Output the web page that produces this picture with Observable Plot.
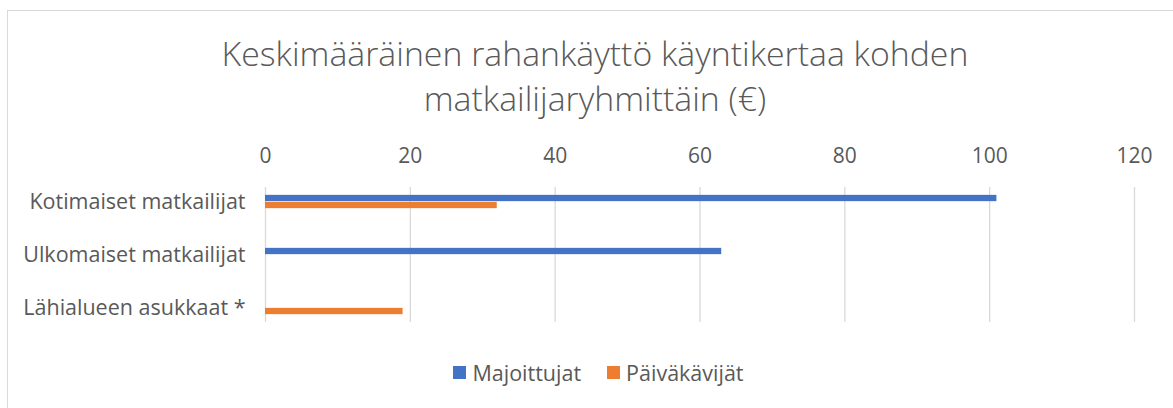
<!DOCTYPE html>
<html>
<head>
<meta charset="utf-8">
<script src="https://cdn.jsdelivr.net/npm/d3@7"></script>
<script src="https://cdn.jsdelivr.net/npm/@observablehq/plot@0.6"></script>
<style>
  html, body { margin: 0; padding: 0; background: #fff; overflow: hidden; }
  #wrap { position: relative; width: 1173px; height: 408px; overflow: hidden; font-family: "Open Sans", sans-serif; color: #595959; }
  #frame { position: absolute; left: 7px; top: 10px; width: 1200px; height: 440px; border: 1px solid #d9d9d9; box-sizing: border-box; }
  #title { position: absolute; left: 0; width: 1190px; top: 31px; text-align: center; font-size: 33.8px; font-weight: 300; line-height: 45px; color: #595959; }
  #chart { position: absolute; left: 0; top: 130px; }
  #legend { position: absolute; top: 358px; left: 12px; width: 1173px; display: flex; justify-content: center; font-size: 21.5px; color: #595959; }
  .item { display: flex; align-items: center; margin: 0 13px; }
  .sw { width: 13px; height: 13px; margin-right: 6px; }
</style>
</head>
<body>
<div id="wrap">
  <div id="frame"></div>
  <div id="title">Keskimääräinen rahankäyttö käyntikertaa kohden<br>matkailijaryhmittäin (€)</div>
  <div id="chart"></div>
  <div id="legend"></div>
</div>
<script>
const categories = ["Kotimaiset matkailijat", "Ulkomaiset matkailijat", "Lähialueen asukkaat *"];
const seriesNames = ["Majoittujat", "Päiväkävijät"];
const majoittujat = [101, 63, null];
const paivakavijat = [32, null, 19];
const xTicks = [0, 20, 40, 60, 80, 100, 120];
const colors = ["#4472C4", "#ED7D31"];

const rowsA = categories.map((c, i) => ({category: c, value: majoittujat[i]})).filter(d => d.value != null);
const rowsB = categories.map((c, i) => ({category: c, value: paivakavijat[i]})).filter(d => d.value != null);

const chart = Plot.plot({
  width: 1173,
  height: 220,
  marginLeft: 265,
  marginRight: 39,
  marginTop: 44,
  marginBottom: 15,
  style: {fontFamily: "Open Sans, sans-serif", color: "#595959", background: "transparent"},
  x: {domain: [0, 120], axis: null},
  y: {domain: categories, padding: 0, axis: null},
  marks: [
    Plot.ruleX(xTicks, {x: d => d, stroke: "#d9d9d9", strokeWidth: 1.3, insetTop: 13, insetBottom: 13}),
    Plot.axisX(xTicks, {anchor: "top", tickSize: 0, tickPadding: 12, fontSize: 21, fill: "#595959", label: null}),
    Plot.axisY(categories, {anchor: "left", tickSize: 0, tickPadding: 20, fontSize: 21.5, fill: "#595959", label: null}),
    Plot.barX(rowsA, {x: "value", y: "category", fill: colors[0], insetTop: 23.35, insetBottom: 23.35, dy: -3.5}),
    Plot.barX(rowsB, {x: "value", y: "category", fill: colors[1], insetTop: 23.35, insetBottom: 23.35, dy: 3.5})
  ]
});
document.getElementById("chart").appendChild(chart);

const legend = document.getElementById("legend");
seriesNames.forEach((name, i) => {
  const item = document.createElement("div");
  item.className = "item";
  const sw = document.createElement("div");
  sw.className = "sw";
  sw.style.background = colors[i];
  const label = document.createElement("span");
  label.textContent = name;
  item.appendChild(sw);
  item.appendChild(label);
  legend.appendChild(item);
});
</script>
</body>
</html>
